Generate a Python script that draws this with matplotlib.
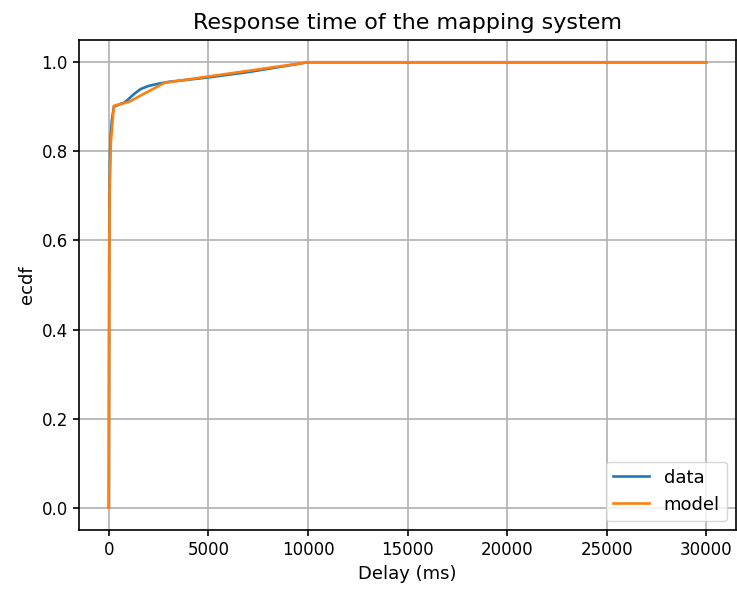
import matplotlib
matplotlib.use("Agg")
import matplotlib.pyplot as plt

# Empirical distribution of the measured delays
data_delay = [0, 15, 30, 60, 100, 150, 250, 500, 800, 1000, 1300, 1600,
              2000, 2500, 3000, 4000, 5000, 7000, 10000, 30000]
data_ecdf = [0.0, 0.55, 0.70, 0.80, 0.84, 0.87, 0.90, 0.905, 0.91, 0.918,
             0.93, 0.94, 0.947, 0.952, 0.956, 0.961, 0.966, 0.978, 1.0, 1.0]

# Piecewise model
model_delay = [0, 30, 100, 250, 1000, 2800, 10000, 30000]
model_ecdf = [0.0, 0.7, 0.82, 0.902, 0.911, 0.954, 1.0, 1.0]

fig = plt.figure(figsize=(7.37, 5.9), dpi=100)
ax = fig.add_axes([79 / 737, 60 / 590, 657 / 737, 490 / 590])

ax.plot(data_delay, data_ecdf, label="data", lw=1.9)
ax.plot(model_delay, model_ecdf, label="model", lw=1.9)

ax.set_title("Response time of the mapping system", fontsize=16, pad=8)
ax.set_xlabel("Delay (ms)", fontsize=13)
ax.set_ylabel("ecdf", fontsize=13)
ax.tick_params(labelsize=12, width=1.2, length=4.5)
for s in ax.spines.values():
    s.set_linewidth(1.2)
ax.grid(True, lw=1.2)
ax.legend(loc="lower right", fontsize=13)

fig.savefig("out.png")
